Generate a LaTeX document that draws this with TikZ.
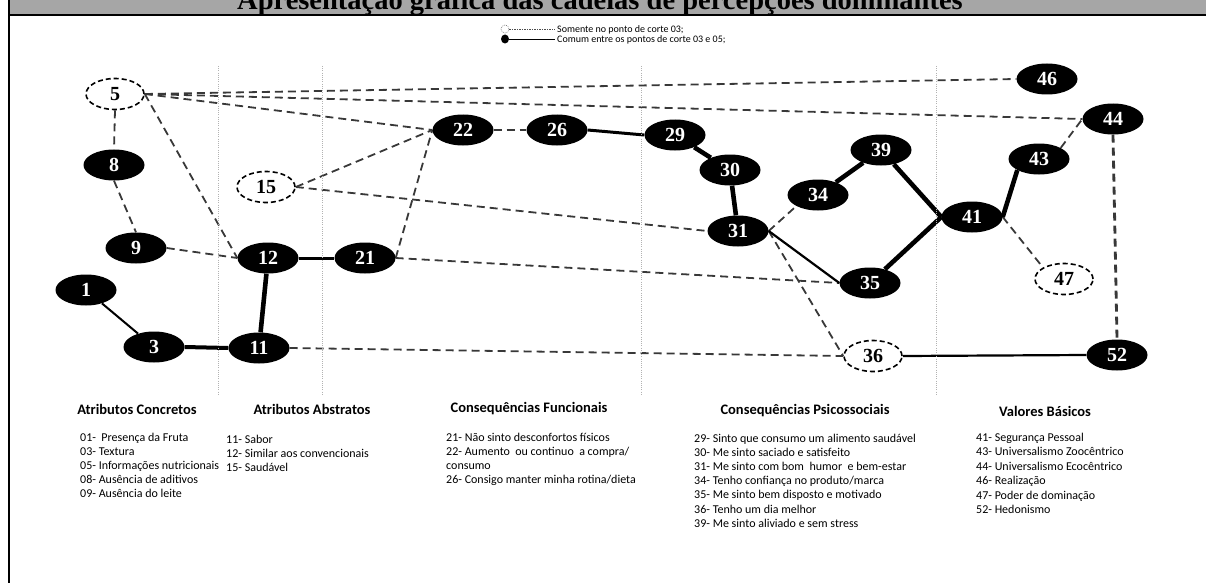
\documentclass[tikz,border=0pt]{standalone}
\usepackage{fontspec}
\setmainfont{Carlito}
\newfontfamily\serifbold{Liberation Serif}
\usetikzlibrary{shapes.geometric,backgrounds}

\begin{document}
\begin{tikzpicture}[x=1pt,y=-1pt,
  numfont/.style={font=\serifbold\bfseries\fontsize{20}{20}\selectfont},
  cnode/.style={ellipse, fill=black, text=white, minimum width=61pt, minimum height=31pt, inner sep=0pt, numfont},
  onode/.style={ellipse, draw=black, line width=1.6pt, dash pattern=on 5pt off 3pt, fill=white, text=black, minimum width=58pt, minimum height=31pt, inner sep=0pt, numfont},
  dlink/.style={draw=black!78, line width=1.8pt, dash pattern=on 8pt off 5pt},
  thinlink/.style={draw=black, line width=2pt},
  midlink/.style={draw=black, line width=3pt},
  boldlink/.style={draw=black, line width=4.6pt},
  sepline/.style={draw=black!30, line width=0.6pt, dash pattern=on 1pt off 1.2pt},
  head/.style={font=\bfseries\fontsize{14.5}{16}\selectfont, anchor=base, inner sep=0pt},
  item/.style={font=\fontsize{12}{14}\selectfont, anchor=base west, inner sep=0pt},
  legtext/.style={font=\fontsize{10}{11}\selectfont, anchor=base west, inner sep=0pt}
]
\useasboundingbox (0,0) rectangle (1206,583);

% title bar
\fill[black!35] (10,-30) rectangle (1206,14);
\node[font=\serifbold\bfseries\fontsize{28.5}{28.5}\selectfont, anchor=base, inner sep=0pt] (title) at (600,9.5) {Apresentação gráfica das cadeias de percepções dominantes};
\draw[line width=2pt] (10,15) -- (1206,15);
\draw[line width=2.4pt] (9,0) -- (9,583);

% column separators
\foreach \sx in {218,322,641,936}
  \draw[sepline] (\sx,66) -- (\sx,395);

% legend
\node[circle, draw=black!60, line width=0.5pt, dash pattern=on 1pt off 1pt, minimum size=8pt, inner sep=0pt] (legopen) at (505,29) {};
\coordinate (legopenend) at (555,29);
\draw[black!70, line width=0.8pt, dash pattern=on 1.5pt off 1pt] (legopen) -- (legopenend);
\node[legtext] (legt1) at (557,32.5) {Somente no ponto de corte 03;};
\node[ellipse, fill=black, minimum width=8pt, minimum height=9pt, inner sep=0pt] (legfull) at (505,39) {};
\coordinate (legfullend) at (555,39);
\draw[black, line width=0.8pt] (legfull) -- (legfullend);
\node[legtext] (legt2) at (557,42.5) {Comum entre os pontos de corte 03 e 05;};

% chain nodes
\node[onode] (n5)  at (115,94)  {5};
\node[cnode] (n8)  at (114,165) {8};
\node[cnode] (n9)  at (136,248) {9};
\node[cnode] (n1)  at (86,290)  {1};
\node[cnode] (n3)  at (154,347) {3};
\node[cnode] (n11) at (259,348) {11};
\node[cnode] (n12) at (268,258) {12};
\node[onode] (n15) at (266,187) {15};
\node[cnode] (n21) at (365,258) {21};
\node[cnode] (n22) at (463,130) {22};
\node[cnode] (n26) at (557,130) {26};
\node[cnode] (n29) at (675,135) {29};
\node[cnode] (n30) at (730,170) {30};
\node[cnode] (n31) at (738,231) {31};
\node[cnode] (n34) at (818,195) {34};
\node[cnode] (n39) at (881,150) {39};
\node[cnode] (n35) at (870,283) {35};
\node[onode] (n36) at (873,356) {36};
\node[cnode] (n41) at (972,217) {41};
\node[cnode] (n43) at (1039,159) {43};
\node[cnode] (n44) at (1113,119) {44};
\node[cnode] (n46) at (1047,79)  {46};
\node[onode] (n47) at (1064,279) {47};
\node[cnode] (n52) at (1117,355) {52};

\begin{pgfonlayer}{background}
% links found only at cut-off 03
\draw[dlink] (n5.south) -- (n8.north);
\draw[dlink] (n8.south) -- (n9.north);
\draw[dlink] (n9.east) -- (n12.west);
\draw[dlink] (n5.east) -- (n12.west);
\draw[dlink] (n5.east) -- (n46.west);
\draw[dlink] (n5.east) -- (n44.west);
\draw[dlink] (n5.east) -- (n22.west);
\draw[dlink] (n15.east) -- (n22.west);
\draw[dlink] (n15.east) -- (n31.west);
\draw[dlink] (n21.east) -- (n22.west);
\draw[dlink] (n21.east) -- (n35.west);
\draw[dlink] (n22.east) -- (n26.west);
\draw[dlink] (n11.east) -- (n36.west);
\draw[dlink] (n31.east) -- (n34.south west);
\draw[dlink] (n31.east) -- (n36.west);
\draw[dlink] (n41.east) -- (n47.north west);
\draw[dlink] (n43.north east) -- (n44.west);
\draw[dlink, line width=2.8pt] (n44.south) -- (n52.north);
% links common to cut-offs 03 and 05
\draw[thinlink] (n1) -- (n3);
\draw[boldlink, line width=4pt] (n3.east) -- (n11.west);
\draw[boldlink] (n11) -- (n12);
\draw[midlink] (n12.east) -- (n21.west);
\draw[midlink] (n26.east) -- (n29.west);
\draw[boldlink] (n29) -- (n30);
\draw[boldlink] (n30) -- (n31);
\draw[thinlink, line width=2.2pt] (n31.east) -- (n35.west);
\draw[boldlink] (n35) -- (n41.west);
\draw[boldlink] (n41.west) -- (n39);
\draw[boldlink] (n39) -- (n34);
\draw[boldlink] (n41.east) -- (n43.south west);
\draw[thinlink, line width=2.2pt] (n36.east) -- (n52.west);
\end{pgfonlayer}

% column headings
\node[head] (h1) at (137,414) {Atributos Concretos};
\node[head] (h2) at (312,414) {Atributos Abstratos};
\node[head] (h3) at (529,412) {Consequências Funcionais};
\node[head] (h4) at (805,414) {Consequências Psicossociais};
\node[head] (h5) at (1045,416) {Valores Básicos};

% column legends
\foreach \t [count=\i] in {01-\ \ Presença da Fruta, 03- Textura, 05- Informações nutricionais, 08- Ausência de aditivos, 09- Ausência do leite}
  \node[item] (ca\i) at (80,441+14*\i-14) {\t};
\foreach \t [count=\i] in {11- Sabor, 12- Similar aos convencionais, 15- Saudável}
  \node[item] (cb\i) at (226,443+14*\i-14) {\t};
\foreach \t [count=\i] in {21- Não sinto desconfortos físicos, 22- Aumento\ \ ou continuo\ \ a compra/, consumo, 26- Consigo manter minha rotina/dieta}
  \node[item] (cc\i) at (446,441+14*\i-14) {\t};
\foreach \t [count=\i] in {29- Sinto que consumo um alimento saudável, 30- Me sinto saciado e satisfeito, 31- Me sinto com bom\ \ humor\ \ e bem-estar, 34- Tenho confiança no produto/marca, 35- Me sinto bem disposto e motivado, 36- Tenho um dia melhor, 39- Me sinto aliviado e sem stress}
  \node[item] (cd\i) at (694,442+14.2*\i-14.2) {\t};
\foreach \t [count=\i] in {41- Segurança Pessoal, 43- Universalismo Zoocêntrico, 44- Universalismo Ecocêntrico, 46- Realização, 47- Poder de dominação, 52- Hedonismo}
  \node[item] (ce\i) at (976,441+14.5*\i-14.5) {\t};
\end{tikzpicture}
\end{document}
